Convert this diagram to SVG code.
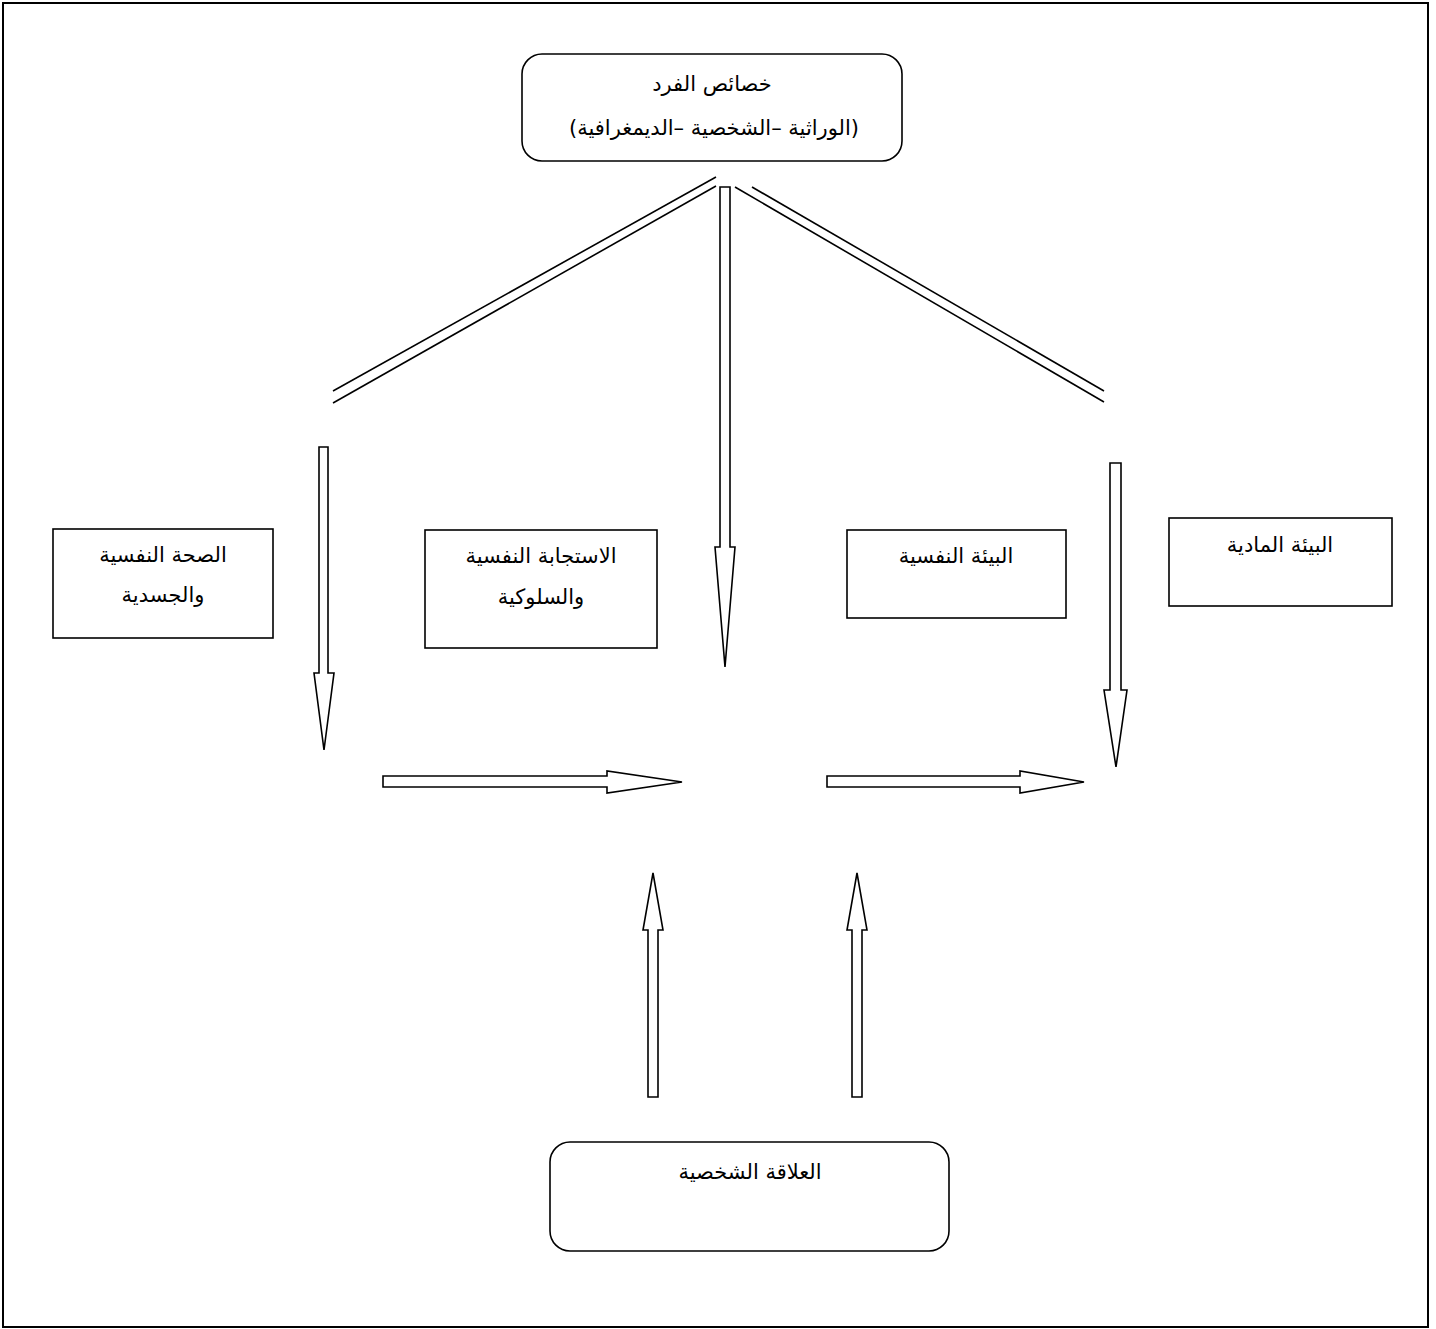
<svg xmlns="http://www.w3.org/2000/svg" width="1436" height="1329" viewBox="0 0 1436 1329">
  <style>
    .frame { fill: #fff; stroke: #000; stroke-width: 2; }
    .box { fill: #fff; stroke: #000; stroke-width: 1.6; }
    .arrow { fill: #fff; stroke: #000; stroke-width: 1.6; stroke-linejoin: miter; }
    .rail { stroke: #000; stroke-width: 1.6; fill: none; }
    .label { font-family: "DejaVu Sans", "Liberation Sans", sans-serif; font-size: 21px; fill: #000; text-anchor: middle; direction: rtl; }
  </style>

  <!-- page frame -->
  <rect class="frame" x="3" y="3" width="1425" height="1324"/>

  <!-- connectors -->
  <g id="connectors">
    <!-- double rails leaving the top node -->
    <line class="rail" x1="333" y1="391" x2="716" y2="177"/>
    <line class="rail" x1="333" y1="403" x2="716" y2="186"/>
    <line class="rail" x1="752" y1="187" x2="1104" y2="391"/>
    <line class="rail" x1="735" y1="187" x2="1104" y2="402"/>

    <!-- centre down arrow -->
    <polygon class="arrow" points="720,187 730,187 730,547 735,547 725,667 715,547 720,547"/>
    <!-- left down arrow -->
    <polygon class="arrow" points="319,447 328,447 328,673 334,673 324,750 314,673 319,673"/>
    <!-- right down arrow -->
    <polygon class="arrow" points="1110,463 1121,463 1121,690 1127,690 1116,767 1104,690 1110,690"/>

    <!-- horizontal arrows -->
    <polygon class="arrow" points="383,776 607,776 607,771 682,782 607,793 607,787 383,787"/>
    <polygon class="arrow" points="827,776 1020,776 1020,771 1084,782 1020,793 1020,787 827,787"/>

    <!-- up arrows from the bottom node -->
    <polygon class="arrow" points="648,1097 648,930 643,930 653,873 663,930 658,930 658,1097"/>
    <polygon class="arrow" points="852,1097 852,930 847,930 857,873 867,930 862,930 862,1097"/>
  </g>

  <g id="node-traits">
    <rect class="box" x="522" y="54" width="380" height="107" rx="20" ry="20"/>
    <text class="label" x="712" y="91">خصائص الفرد</text>
    <text class="label" x="714" y="135">(الوراثية –الشخصية –الديمغرافية)</text>
  </g>

  <g id="node-health">
    <rect class="box" x="53" y="529" width="220" height="109"/>
    <text class="label" x="163" y="562">الصحة النفسية</text>
    <text class="label" x="163" y="602">والجسدية</text>
  </g>

  <g id="node-response">
    <rect class="box" x="425" y="530" width="232" height="118"/>
    <text class="label" x="541" y="563">الاستجابة النفسية</text>
    <text class="label" x="541" y="604">والسلوكية</text>
  </g>

  <g id="node-psych-env">
    <rect class="box" x="847" y="530" width="219" height="88"/>
    <text class="label" x="956" y="563">البيئة النفسية</text>
  </g>

  <g id="node-physical-env">
    <rect class="box" x="1169" y="518" width="223" height="88"/>
    <text class="label" x="1280" y="552">البيئة المادية</text>
  </g>

  <g id="node-relations">
    <rect class="box" x="550" y="1142" width="399" height="109" rx="20" ry="20"/>
    <text class="label" x="750" y="1179">العلاقة الشخصية</text>
  </g>
</svg>
